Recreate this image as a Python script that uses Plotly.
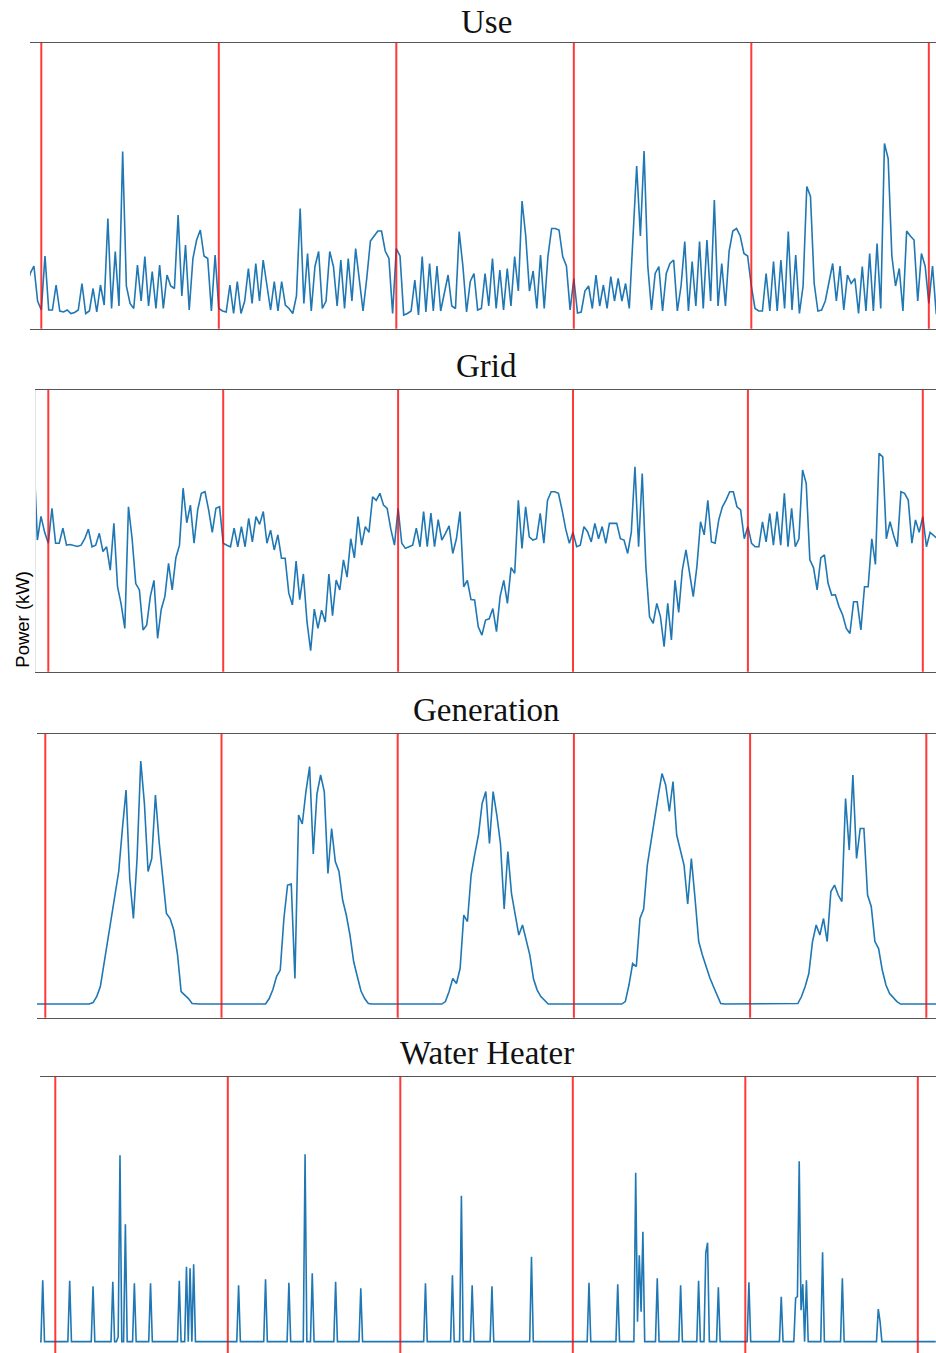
import plotly.graph_objects as go

# ---------------- data (hours from first midnight, 30-min steps, -2 h .. 122 h) ----------------
hours = [-2 + 0.5 * i for i in range(249)]
day_boundaries = [0, 24, 48, 72, 96, 120]
panel_titles = ["Use", "Grid", "Generation", "Water Heater"]

use_kw = [
    # -2 .. 23.5
    0.6, 0.85, 1.0, 0.3, 0.12, 1.2, 0.12, 0.12, 0.62, 0.1, 0.08, 0.12, 0.05, 0.07, 0.12, 0.65,
    0.05, 0.1, 0.55, 0.08, 0.62, 0.22, 1.95, 0.15, 1.29, 0.2, 3.29, 0.6, 0.25, 0.15, 1.02, 0.3,
    1.19, 0.2, 0.89, 0.15, 1.02, 0.15, 0.82, 0.6, 0.55, 2.02, 0.4, 1.42, 0.12, 1.15, 1.52, 1.72,
    1.2, 1.15, 0.1, 1.22,
    # 24 .. 47.5
    0.15, 0.1, 0.08, 0.62, 0.05, 0.69, 0.05, 0.3, 0.95, 0.25, 1.05, 0.3, 1.12, 0.62, 0.12, 0.69,
    0.1, 0.69, 0.22, 0.15, 0.05, 0.4, 2.15, 0.25, 1.25, 0.1, 0.99, 1.29, 0.15, 0.3, 1.29, 0.99,
    0.2, 1.12, 0.15, 1.15, 0.3, 1.35, 0.75, 0.1, 0.75, 1.5, 1.6, 1.7, 1.7, 1.3, 1.15, 0.05,
    # 48 .. 71.5
    1.35, 1.2, 0.02, 0.05, 0.1, 0.72, 0.02, 1.19, 0.08, 1.05, 0.1, 1.0, 0.1, 0.45, 0.82, 0.2,
    0.15, 1.69, 1.0, 0.08, 0.69, 0.85, 0.12, 0.15, 0.85, 0.2, 1.15, 0.15, 0.92, 0.12, 0.95, 0.2,
    1.19, 0.5, 2.3, 1.6, 0.5, 0.9, 0.15, 1.22, 0.15, 1.19, 1.75, 1.75, 1.72, 1.19, 1.0, 0.12,
    # 72 .. 95.5
    0.75, 0.06, 0.08, 0.5, 0.6, 0.15, 0.82, 0.2, 0.62, 0.15, 0.79, 0.3, 0.75, 0.3, 0.65, 0.15,
    1.5, 3.0, 1.6, 3.3, 1.0, 0.12, 0.85, 0.99, 0.1, 0.85, 1.05, 1.12, 0.1, 0.6, 1.49, 0.1,
    1.09, 0.2, 1.49, 0.15, 1.52, 0.3, 2.32, 0.2, 1.05, 0.2, 1.3, 1.7, 1.75, 1.6, 1.25, 1.2,
    # 96 .. 122
    0.6, 0.15, 0.1, 0.1, 0.85, 0.1, 1.09, 0.1, 1.12, 0.15, 1.69, 0.12, 1.22, 0.05, 0.6, 2.59,
    2.39, 0.65, 0.1, 0.12, 0.3, 0.65, 1.05, 0.3, 1.0, 0.12, 0.82, 0.65, 0.75, 0.05, 0.99, 0.1,
    1.25, 0.1, 1.45, 0.15, 3.45, 3.15, 1.2, 0.6, 0.95, 0.1, 1.7, 1.6, 1.52, 0.3, 1.25, 1.0,
    0.25, 1.0, 0.05, 0.05, 0.05,
]

grid_kw = [
    # -2 .. 23.5
    3.0, 0.26, 1.0, 0.5, 0.16, 1.25, 0.16, 0.16, 0.63, 0.1, 0.12, 0.1, 0.06, 0.1, 0.3, 0.6,
    0.05, 0.1, 0.47, -0.1, 0.05, -0.68, 0.78, -1.2, -1.75, -2.5, 1.3, 0.3, -1.1, -1.3, -2.55, -2.4,
    -1.5, -1.0, -2.81, -1.9, -1.5, -0.47, -1.3, -0.3, 0.1, 1.88, 0.8, 1.35, 0.16, 1.2, 1.72, 1.77,
    1.2, 0.5, 1.25, 1.3,
    # 24 .. 47.5
    0.16, 0.1, 0.05, 0.63, 0.05, 0.68, 0.05, 0.94, 0.2, 0.99, 0.75, 1.15,
    0.16, 0.57, -0.05, 0.42, -0.31, -0.31, -1.4, -1.77, -0.4, -1.6, -0.8, -2.3,
    -3.2, -1.9, -2.5, -1.93, -2.3, -0.8, -2.1, -0.99, -1.3, -0.36, -0.9, 0.3,
    -0.3, 0.99, 0.1, 0.68, 0.5, 1.61, 1.5, 1.72, 1.35, 1.25, 0.6, 0.1,
    # 48 .. 71.5
    1.25, 0.16, 0.0, 0.05, 0.1, 0.63, 0.05, 1.15, 0.05, 1.1, 0.05, 0.9,
    0.26, 0.47, 0.7, -0.16, 0.3, 1.15, -1.2, -1.0, -1.6, -1.61, -2.45, -2.71,
    -2.24, -2.2, -1.88, -2.6, -1.5, -1.0, -1.72, -0.6, -0.78, 1.5, 0.0, 1.3,
    0.36, 0.26, 0.3, 1.09, 0.16, 1.5, 1.77, 1.77, 1.72, 1.2, 0.6, 0.16,
    # 72 .. 95.5
    0.5, 0.05, 0.1, 0.68, 0.52, 0.2, 0.78, 0.3, 0.68, 0.16, 0.78, 0.78,
    0.78, 0.3, 0.26, -0.16, 0.5, 2.55, 0.05, 2.34, -0.57, -2.14, -2.34, -1.72,
    -2.14, -3.07, -1.72, -2.86, -1.0, -2.0, -0.68, -0.05, -0.78, -1.51, -0.57, 0.83,
    0.42, 1.5, 0.2, 0.16, 0.89, 1.3, 1.51, 1.77, 1.77, 1.3, 1.2, 0.3,
    # 96 .. 122
    0.68, 0.16, 0.05, 0.05, 0.83, 0.2, 1.09, 0.1, 1.15, 0.1, 1.72, 0.05,
    1.25, 0.05, 0.3, 2.45, 2.03, -0.36, -0.6, -1.3, -0.3, -0.2, -1.09, -1.46,
    -1.45, -1.82, -2.08, -2.5, -2.66, -1.67, -1.67, -2.55, -1.2, -1.2, 0.3, -0.5,
    2.97, 2.86, 0.3, 0.83, 0.4, 0.05, 1.77, 1.72, 1.51, 0.16, 0.89, 0.5,
    0.99, 0.05, 0.5, 0.4, 0.3,
]

gen_kw = [
    # -2 .. 6
    0, 0, 0, 0, 0, 0, 0, 0, 0, 0, 0, 0, 0, 0, 0, 0, 0,
    # 6.5 .. 20
    0.03, 0.15, 0.35, 0.81, 1.31, 1.78, 2.23, 2.65, 3.5, 4.28, 2.51, 1.71, 2.91, 4.86, 4.01, 2.65,
    2.91, 4.18, 3.25, 2.58, 1.81, 1.71, 1.48, 1.0, 0.25, 0.18, 0.11, 0.01,
    # 20.5 .. 30
    0, 0, 0, 0, 0, 0, 0, 0, 0, 0, 0, 0, 0, 0, 0, 0, 0, 0, 0, 0,
    # 30.5 .. 44
    0.11, 0.29, 0.55, 0.68, 1.71, 2.38, 2.4, 0.51, 3.78, 3.6, 4.25, 4.75, 3.0, 4.2, 4.58, 4.25,
    2.61, 3.51, 2.85, 2.65, 2.08, 1.78, 1.38, 0.85, 0.55, 0.26, 0.11, 0.01,
    # 44.5 .. 54
    0, 0, 0, 0, 0, 0, 0, 0, 0, 0, 0, 0, 0, 0, 0, 0, 0, 0, 0, 0,
    # 54.5 .. 68
    0.05, 0.25, 0.51, 0.41, 0.71, 1.78, 1.65, 2.58, 3.0, 3.38, 4.01, 4.25, 3.21, 4.25, 3.78, 3.2,
    1.9, 3.05, 2.21, 1.78, 1.38, 1.58, 1.25, 0.98, 0.5, 0.28, 0.15, 0.08,
    # 68.5 .. 78.5
    0, 0, 0, 0, 0, 0, 0, 0, 0, 0, 0, 0, 0, 0, 0, 0, 0, 0, 0, 0, 0,
    # 79 .. 92
    0.05, 0.38, 0.81, 0.75, 1.71, 1.9, 2.78, 3.25, 3.78, 4.18, 4.61, 4.38, 3.85, 4.45, 3.38, 3.05,
    2.78, 2.0, 2.91, 2.11, 1.25, 0.98, 0.75, 0.53, 0.35, 0.17, 0.01,
    # 92.5 .. 102
    0, 0, 0, 0, 0, 0, 0, 0, 0, 0, 0, 0, 0, 0, 0, 0, 0, 0, 0, 0,
    # 102.5 .. 116
    0.01, 0.15, 0.35, 0.61, 1.25, 1.58, 1.38, 1.71, 1.25, 2.25, 2.38, 2.18, 2.05, 4.11, 3.08, 4.58,
    2.91, 3.51, 3.51, 2.18, 1.95, 1.25, 1.11, 0.68, 0.38, 0.21, 0.13, 0.05,
    # 116.5 .. 122
    0, 0, 0, 0, 0, 0, 0, 0, 0, 0, 0, 0,
]

# water heater: 15-min readings; only the non-zero readings are listed, all others read as 0 kW
wh_hours_step = 0.25
wh_event_hours = [
    -1.75, 2.0, 5.25, 8.0, 8.75, 9.0, 9.75, 11.0, 13.25, 17.25, 18.25, 18.75, 19.25,
    25.5, 29.25, 32.5, 34.75, 35.75, 39.0, 42.5,
    51.5, 55.25, 56.5, 58.0, 60.75, 66.25,
    74.25, 78.25, 80.75, 81.0, 81.25, 81.5, 81.75, 83.75, 87.0, 89.5, 90.5, 90.75, 92.25,
    96.5, 101.0, 103.0, 103.25, 103.5, 103.75, 104.0, 104.5, 106.75, 109.5, 114.5, 114.75,
]
wh_event_kw = [
    1.23, 1.22, 1.11, 1.2, 0.1, 3.73, 2.35, 1.17, 1.17, 1.22, 1.5, 1.47, 1.55,
    1.13, 1.25, 1.18, 3.75, 1.37, 1.2, 1.07,
    1.17, 1.33, 2.92, 1.13, 1.11, 1.7,
    1.18, 1.15, 3.38, 0.4, 1.73, 0.6, 2.2, 1.27, 1.13, 1.22, 1.77, 1.98, 1.09,
    1.19, 0.9, 0.87, 0.9, 3.61, 0.63, 1.15, 1.23, 1.79, 1.27, 0.65, 0.4,
]

wh_hours = [-2.25 + wh_hours_step * i for i in range(500)]
wh_lookup = {round(h * 4): v for h, v in zip(wh_event_hours, wh_event_kw)}
wh_kw = [wh_lookup.get(round(h * 4), 0.0) for h in wh_hours]

# ---------------- layout geometry ----------------
W, H = 936, 1353
panels = [
    dict(left=30, top=42.7, bottom=328.7, xr=[-1.528, 120.97], yr=[-0.254, 5.466], tmid=22.2),
    dict(left=36, top=390.0, bottom=671.7, xr=[-1.688, 121.81], yr=[-3.854, 4.948], tmid=365.7),
    dict(left=37, top=734.0, bottom=1017.7, xr=[-1.13, 121.32], yr=[-0.273, 5.4], tmid=710.2),
    dict(left=40, top=1076.7, bottom=1353.0, xr=[-2.129, 122.53], yr=[-0.227, 5.3], tmid=1053.2),
]
series = [(hours, use_kw), (hours, grid_kw), (hours, gen_kw), (wh_hours, wh_kw)]

fig = go.Figure()
shapes = []
annotations = []
layout_axes = {}

for i, (p, (xs, ys)) in enumerate(zip(panels, series)):
    n = "" if i == 0 else str(i + 1)
    xname, yname = "x" + n, "y" + n
    fig.add_trace(go.Scatter(
        x=xs, y=ys, xaxis=xname, yaxis=yname, mode="lines",
        line=dict(color="#1f77b4", width=1.6), hoverinfo="skip", showlegend=False,
    ))
    is_last = i == 3
    layout_axes["xaxis" + n] = dict(
        domain=[p["left"] / W, 1.0], range=p["xr"], anchor=yname,
        showline=True, linecolor="#555555", linewidth=1.3,
        mirror=not is_last, side="top" if is_last else "bottom",
        showgrid=False, zeroline=False, showticklabels=False, ticks="",
    )
    layout_axes["yaxis" + n] = dict(
        domain=[1 - p["bottom"] / H, 1 - p["top"] / H], range=p["yr"], anchor=xname,
        showgrid=False, zeroline=False, showticklabels=False, ticks="",
        showline=(i == 1), linecolor="#e4e4e4", linewidth=1,
    )
    for d in day_boundaries:
        shapes.append(dict(
            type="line", xref=xname, yref=yname + " domain", x0=d, x1=d, y0=0, y1=1,
            line=dict(color="rgba(255,0,0,0.78)", width=2), layer="above",
        ))
    annotations.append(dict(
        text=panel_titles[i], xref="paper", yref="paper", x=486.5 / W, y=1 - p["tmid"] / H,
        xanchor="center", yanchor="middle", showarrow=False,
        font=dict(family="Liberation Serif, DejaVu Serif, serif", size=33, color="#111111"),
    ))

annotations.append(dict(
    text="Power (kW)", xref="paper", yref="paper", x=21.7 / W, y=1 - 619 / H,
    xanchor="center", yanchor="middle", textangle=-90, showarrow=False,
    font=dict(family="Liberation Sans, Arial, sans-serif", size=18.5, color="#000000"),
))

fig.update_layout(
    width=W, height=H, margin=dict(l=0, r=0, t=0, b=0),
    paper_bgcolor="white", plot_bgcolor="white",
    shapes=shapes, annotations=annotations, showlegend=False,
    **layout_axes,
)

fig.write_html("out.html")
